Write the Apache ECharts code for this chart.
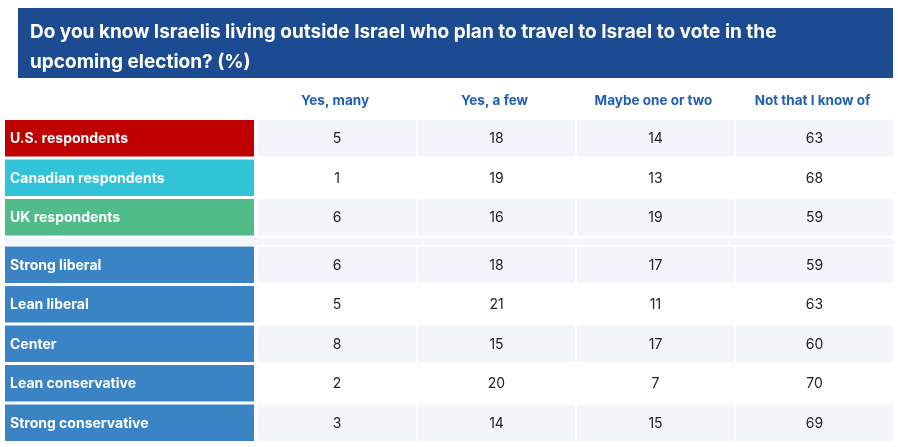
<!DOCTYPE html>
<html>
<head>
<meta charset="utf-8">
<script src="https://cdn.jsdelivr.net/npm/echarts@6/dist/echarts.min.js"></script>
<style>html,body{margin:0;padding:0;background:#fff}#main{width:898px;height:447px}</style>
</head>
<body>
<div id="main"></div>
<script>
var title = 'Do you know Israelis living outside Israel who plan to travel to Israel to vote in the\nupcoming election? (%)';
var columns = ['Yes, many', 'Yes, a few', 'Maybe one or two', 'Not that I know of'];
var rows = ['U.S. respondents', 'Canadian respondents', 'UK respondents', 'Strong liberal', 'Lean liberal', 'Center', 'Lean conservative', 'Strong conservative'];
var rowColors = ['#c00000', '#31c3d8', '#50bc89', '#3a84c6', '#3a84c6', '#3a84c6', '#3a84c6', '#3a84c6'];
var yesMany = [5, 1, 6, 6, 5, 8, 2, 3];
var yesFew = [18, 19, 16, 18, 21, 15, 20, 14];
var maybe = [14, 13, 19, 17, 11, 17, 7, 15];
var notKnow = [63, 68, 59, 59, 63, 60, 70, 69];

var values = [yesMany, yesFew, maybe, notKnow];
// column edges in x-axis units (label column + 4 data columns)
var edges = [0, 251, 411, 570, 729, 888];
function rowPos(i) { return i + (i >= 3 ? 0.2 : 0); }
function shaded(i) { return i < 3 ? i % 2 === 0 : i % 2 === 1; }

var data = [];
rows.forEach(function (r, i) {
  data.push([0, i, r]);
  values.forEach(function (v, c) { data.push([c + 1, i, v[i]]); });
});

var chart = echarts.init(document.getElementById('main'));
chart.setOption({
  animation: false,
  grid: { left: 5, right: 5, top: 119, bottom: 4 },
  xAxis: { type: 'value', min: 0, max: 888, show: false },
  yAxis: { type: 'value', min: 0, max: 8.2, inverse: true, show: false },
  graphic: [
    { type: 'rect', shape: { x: 18, y: 8, width: 875, height: 70 }, style: { fill: '#1d4b91' } },
    { type: 'text', left: 30, top: 17, style: { text: title, fill: '#fff', font: 'bold 19px Inter, sans-serif', lineHeight: 30 } },
    // spacer strip between country and ideology groups
    { type: 'rect', shape: { x: 5, y: 238, width: 888, height: 7 }, style: { fill: '#f2f5fa' } }
  ].concat(columns.map(function (c, k) {
    var cx = 5 + (edges[k + 1] + edges[k + 2]) / 2;
    return { type: 'text', x: cx - 1, y: 101, style: { text: c, fill: '#1f5eb3', font: 'bold 13.5px Inter, sans-serif', align: 'center', verticalAlign: 'middle' } };
  })),
  series: [{
    type: 'custom',
    data: data,
    renderItem: function (params, api) {
      var c = api.value(0), i = api.value(1);
      var p0 = api.coord([edges[c], rowPos(i)]);
      var p1 = api.coord([edges[c + 1], rowPos(i) + 1]);
      var x = p0[0] + (c > 0 ? 2 : 0), y = p0[1] + 1;
      var w = p1[0] - p0[0] - 2, h = p1[1] - p0[1] - 3;
      var fill = c === 0 ? rowColors[i] : (shaded(i) ? '#f2f5fa' : '#ffffff');
      var isLabel = c === 0;
      return {
        type: 'group',
        children: [
          { type: 'rect', shape: { x: x, y: y, width: w, height: h }, style: { fill: fill } },
          { type: 'text', x: isLabel ? x + 5 : x + w / 2, y: y + h / 2 + 1,
            style: { text: String(data[params.dataIndex][2]), fill: isLabel ? '#fff' : '#222',
              font: (isLabel ? 'bold 14px' : '14px') + ' Inter, sans-serif',
              align: isLabel ? 'left' : 'center', verticalAlign: 'middle' } }
        ]
      };
    }
  }]
});
</script>
</body>
</html>
